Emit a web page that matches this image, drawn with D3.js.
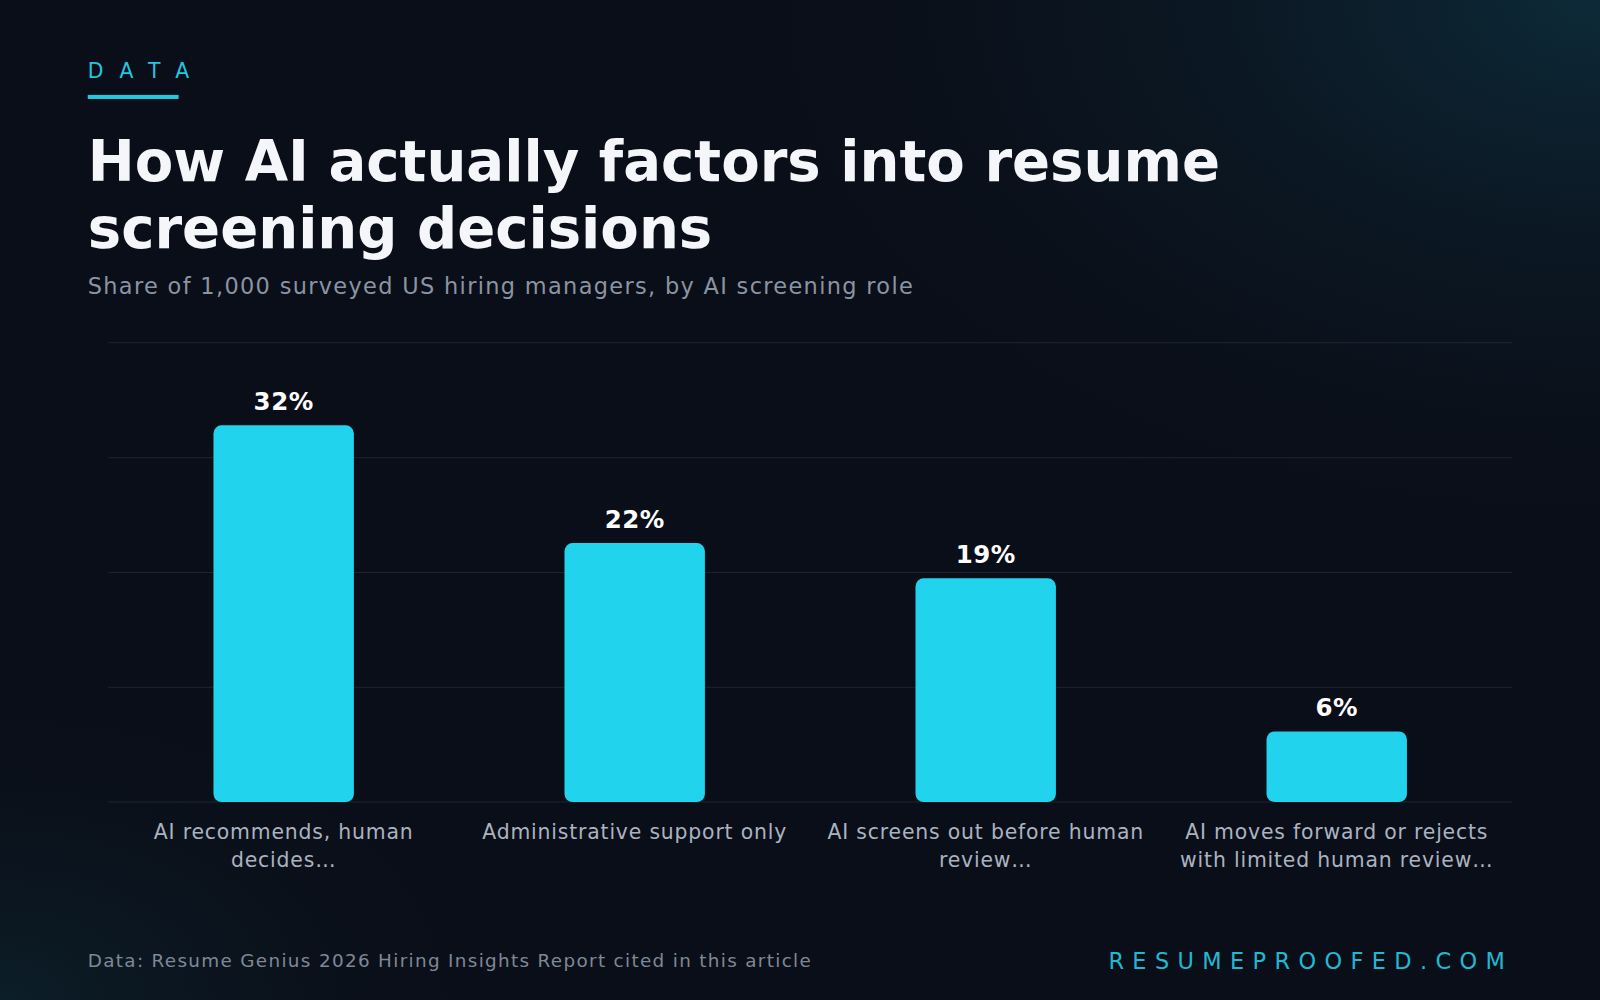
<!DOCTYPE html>
<html><head><meta charset="utf-8">
<script src="https://cdn.jsdelivr.net/npm/d3@7"></script>
<style>body{margin:0;background:#0a0e18;overflow:hidden}svg{display:block}</style>
</head><body>
<svg id="chart" width="1600" height="1000" viewBox="0 0 1568 980"></svg>
<script>
// chart values
var categories = ["AI recommends, human decides\u2026", "Administrative support only", "AI screens out before human review\u2026", "AI moves forward or rejects with limited human review\u2026"];
var labelLines = [["AI recommends, human", "decides\u2026"], ["Administrative support only"], ["AI screens out before human", "review\u2026"], ["AI moves forward or rejects", "with limited human review\u2026"]];
var values = [32, 22, 19, 6];

var svg = d3.select("#chart");
var font = "DejaVu Sans, sans-serif";

// background glows
var defs = svg.append("defs");
var g1 = defs.append("radialGradient").attr("id", "glowTR").attr("cx", "100%").attr("cy", "0%").attr("r", "60%");
g1.append("stop").attr("offset", "0%").attr("stop-color", "#0d2a38");
g1.append("stop").attr("offset", "100%").attr("stop-color", "#0a0e18").attr("stop-opacity", 0);
var g2 = defs.append("radialGradient").attr("id", "glowBL").attr("cx", "0%").attr("cy", "100%").attr("r", "35%");
g2.append("stop").attr("offset", "0%").attr("stop-color", "#0c1e28");
g2.append("stop").attr("offset", "100%").attr("stop-color", "#0a0e18").attr("stop-opacity", 0);
svg.append("rect").attr("width", 1568).attr("height", 980).attr("fill", "#0a0e18");
svg.append("rect").attr("width", 1568).attr("height", 980).attr("fill", "url(#glowTR)");
svg.append("rect").attr("width", 1568).attr("height", 980).attr("fill", "url(#glowBL)");

// header
svg.append("text").attr("x", 86).attr("y", 76).text("DATA")
  .attr("font-family", font).attr("font-size", 20).attr("letter-spacing", 16).attr("fill", "#22c7e0");
svg.append("rect").attr("x", 86).attr("y", 93).attr("width", 89).attr("height", 4).attr("fill", "#22c7e0");
svg.append("text").attr("font-family", font).attr("font-size", 55).attr("font-weight", "bold").attr("fill", "#f4f6f9")
  .selectAll("tspan").data(["How AI actually factors into resume", "screening decisions"]).enter().append("tspan")
  .attr("x", 86).attr("y", function (d, i) { return 177 + i * 66; }).text(function (d) { return d; });
svg.append("text").attr("x", 86).attr("y", 288).text("Share of 1,000 surveyed US hiring managers, by AI screening role")
  .attr("font-family", font).attr("font-size", 22).attr("letter-spacing", 1.3).attr("fill", "#8a94a3");

// scales
var x = d3.scaleBand().domain(categories).range([106, 1482]).paddingInner(0.6).paddingOuter(0.3);
var y = d3.scaleLinear().domain([0, 39]).range([786, 336]);

svg.append("g").selectAll("line").data(d3.range(5)).enter().append("line")
  .attr("x1", 106).attr("x2", 1482)
  .attr("y1", function (d) { return 786 - d * 112.5; }).attr("y2", function (d) { return 786 - d * 112.5; })
  .attr("stroke", "#ffffff").attr("stroke-opacity", 0.09);

svg.append("g").selectAll("rect").data(values).enter().append("rect")
  .attr("x", function (d, i) { return x(categories[i]); })
  .attr("y", function (d) { return y(d); })
  .attr("width", x.bandwidth())
  .attr("height", function (d) { return y(0) - y(d); })
  .attr("rx", 8).attr("fill", "#22d3ee");

svg.append("g").selectAll("text").data(values).enter().append("text")
  .attr("x", function (d, i) { return x(categories[i]) + x.bandwidth() / 2; })
  .attr("y", function (d) { return y(d) - 15; })
  .attr("text-anchor", "middle").attr("font-family", font).attr("font-size", 24).attr("font-weight", "bold")
  .attr("letter-spacing", 0.5).attr("fill", "#ffffff").text(function (d) { return d + "%"; });

svg.append("g").selectAll("text").data(labelLines).enter().append("text")
  .attr("text-anchor", "middle").attr("font-family", font).attr("font-size", 20).attr("letter-spacing", 0.8).attr("fill", "#aab3c0")
  .each(function (lines, i) {
    d3.select(this).selectAll("tspan").data(lines).enter().append("tspan")
      .attr("x", x(categories[i]) + x.bandwidth() / 2)
      .attr("y", function (d, j) { return 822 + j * 28; }).text(function (d) { return d; });
  });

// footer
svg.append("text").attr("x", 86).attr("y", 948).text("Data: Resume Genius 2026 Hiring Insights Report cited in this article")
  .attr("font-family", font).attr("font-size", 18).attr("letter-spacing", 1.3).attr("fill", "#7f8896");
svg.append("text").attr("x", 1483).attr("y", 950).attr("text-anchor", "end").text("RESUMEPROOFED.COM")
  .attr("font-family", font).attr("font-size", 22).attr("letter-spacing", 8.2).attr("fill", "#22b8d0");
</script>
</body></html>
